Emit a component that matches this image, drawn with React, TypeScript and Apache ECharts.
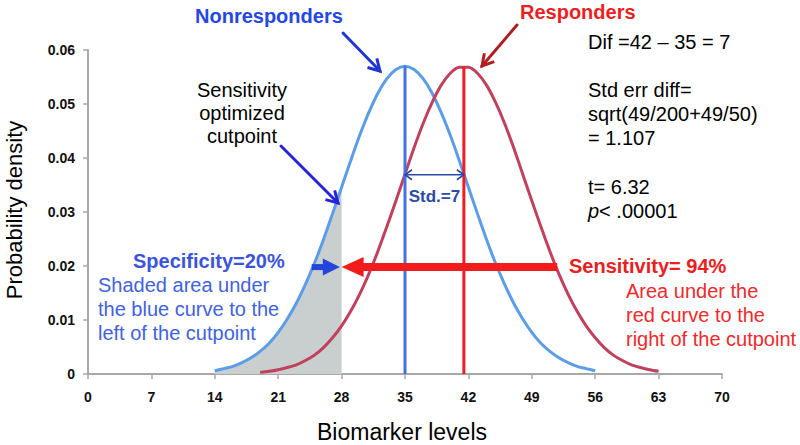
import React, { useEffect, useRef } from "react";
import * as echarts from "echarts";

// ---- data ----
const xTicks = [0, 7, 14, 21, 28, 35, 42, 49, 56, 63, 70];
const yTicks = [0, 0.01, 0.02, 0.03, 0.04, 0.05, 0.06];

const blueX = [14, 15, 16, 17, 18, 19, 20, 21, 22, 23, 24, 25, 26, 27, 28, 29, 30, 31, 32, 33, 34, 35,
  36, 37, 38, 39, 40, 41, 42, 43, 44, 45, 46, 47, 48, 49, 50, 51, 52, 53, 54, 55, 56];
const blueY = [0.0006, 0.0010, 0.0014, 0.0021, 0.0030, 0.0042, 0.0057, 0.0077, 0.0102, 0.0131, 0.0166,
  0.0205, 0.0249, 0.0297, 0.0346, 0.0395, 0.0442, 0.0484, 0.0520, 0.0547, 0.0564, 0.0570,
  0.0564, 0.0547, 0.0520, 0.0484, 0.0442, 0.0395, 0.0346, 0.0297, 0.0249, 0.0205, 0.0166,
  0.0131, 0.0102, 0.0077, 0.0057, 0.0042, 0.0030, 0.0021, 0.0014, 0.0010, 0.0006];

const redX = [19, 20, 21, 22, 23, 24, 25, 26, 27, 28, 29, 30, 31, 32, 33, 34, 35, 36, 37, 38, 39, 40, 41,
  42, 43, 44, 45, 46, 47, 48, 49, 50, 51, 52, 53, 54, 55, 56, 57, 58, 59, 60, 61, 62, 63];
const redY = [0.0003, 0.0005, 0.0008, 0.0012, 0.0017, 0.0025, 0.0035, 0.0049, 0.0067, 0.0089, 0.0116,
  0.0148, 0.0185, 0.0227, 0.0273, 0.0321, 0.0370, 0.0419, 0.0464, 0.0503, 0.0535, 0.0557, 0.0568,
  0.0568, 0.0557, 0.0535, 0.0503, 0.0464, 0.0419, 0.0370, 0.0321, 0.0273, 0.0227, 0.0185, 0.0148,
  0.0116, 0.0089, 0.0067, 0.0049, 0.0035, 0.0025, 0.0017, 0.0012, 0.0008, 0.0005];

const cutpoint = 28;
const blueMean = 35;
const bluePeak = 0.0570;
const redMean = 41.5;
const redPeak = 0.0568;
const stdArrowY = 0.0369;
const sensArrowY = 0.0198;
const sensArrowStart = 51.8;
const specArrowStart = 24.7;
const specArrowEnd = 27.8;

const FONT = '"Liberation Sans", Arial, Helvetica, sans-serif';

function vArrow(x1: number, y1: number, x2: number, y2: number, color: string, w: number, L: number, ang = Math.PI / 6) {
  const a = Math.atan2(y2 - y1, x2 - x1);
  const p1 = [x2 - L * Math.cos(a - ang), y2 - L * Math.sin(a - ang)];
  const p2 = [x2 - L * Math.cos(a + ang), y2 - L * Math.sin(a + ang)];
  return [
    { type: "line", z: 100, shape: { x1, y1, x2, y2 }, style: { stroke: color, lineWidth: w, lineCap: "round" } },
    { type: "polyline", z: 100, shape: { points: [p1, [x2, y2], p2] }, style: { stroke: color, lineWidth: w, fill: null, lineJoin: "miter" } },
  ];
}

function txt(text: string, x: number, y: number, size: number, color: string, weight = "normal", align = "left", extra: any = {}) {
  return {
    type: "text",
    z: 110,
    x,
    y,
    ...extra,
    style: { text, x: 0, y: 0, fill: color, font: `${weight} ${size}px ${FONT}`, align, verticalAlign: "middle", ...(extra.style || {}) },
  };
}

export default function App() {
  const ref = useRef<HTMLDivElement>(null);
  useEffect(() => {
    if (!ref.current) return;
    const chart = echarts.init(ref.current, null, { renderer: "svg" });
    const blueData = blueX.map((x, i) => [x, blueY[i]]);
    const redData = redX.map((x, i) => [x, redY[i]]);
    const shadeData = blueData.filter((d) => d[0] <= cutpoint);
    const axisColor = "#a8a8a8";
    chart.setOption({
      animation: false,
      grid: { left: 88, right: 78, top: 50, bottom: 71 },
      xAxis: {
        type: "value",
        min: xTicks[0],
        max: xTicks[xTicks.length - 1],
        interval: xTicks[1] - xTicks[0],
        axisLine: { show: true, onZero: false, lineStyle: { color: axisColor, width: 2 } },
        axisTick: { show: true, length: 5, lineStyle: { color: axisColor, width: 1.5 } },
        axisLabel: { color: "#111", fontWeight: "bold", fontSize: 14, fontFamily: FONT, margin: 16 },
        splitLine: { show: false },
      },
      yAxis: {
        type: "value",
        min: yTicks[0],
        max: yTicks[yTicks.length - 1],
        interval: 0.01,
        axisLine: { show: true, lineStyle: { color: axisColor, width: 2 } },
        axisTick: { show: true, length: 5, lineStyle: { color: axisColor, width: 1.5 } },
        axisLabel: {
          color: "#111", fontWeight: "bold", fontSize: 14, fontFamily: FONT, margin: 13,
          formatter: (v: number) => (v === 0 ? "0" : v.toFixed(2)),
        },
        splitLine: { show: false },
      },
      series: [
        {
          type: "line", data: shadeData, smooth: 0.3, symbol: "none", z: 1,
          lineStyle: { width: 0 }, areaStyle: { color: "#c9cece", opacity: 1 },
        },
        {
          type: "line", data: blueData, smooth: 0.3, symbol: "none", z: 3,
          lineStyle: { width: 3, color: "#5b9de8" },
        },
        {
          type: "line", data: redData, smooth: 0.3, symbol: "none", z: 3,
          lineStyle: { width: 3, color: "#c0415c" },
        },
        {
          type: "line", data: [[blueMean, 0], [blueMean, bluePeak]], symbol: "none", z: 4,
          lineStyle: { width: 3, color: "#4472e6" },
        },
        {
          type: "line", data: [[redMean, 0], [redMean, redPeak]], symbol: "none", z: 4,
          lineStyle: { width: 3, color: "#ee1c24" },
        },
      ],
    });

    const p = (x: number, y: number) => chart.convertToPixel({ gridIndex: 0 }, [x, y]) as number[];
    const g: any[] = [];

    // Std double arrow
    const s1 = p(blueMean, stdArrowY);
    const s2 = p(redMean, stdArrowY);
    const stdCol = "#2b4aa8";
    g.push({ type: "line", z: 100, shape: { x1: s1[0], y1: s1[1], x2: s2[0], y2: s2[1] }, style: { stroke: stdCol, lineWidth: 1.6 } });
    g.push({ type: "polyline", z: 100, shape: { points: [[s1[0] + 7, s1[1] - 5], [s1[0], s1[1]], [s1[0] + 7, s1[1] + 5]] }, style: { stroke: stdCol, lineWidth: 1.6, fill: null } });
    g.push({ type: "polyline", z: 100, shape: { points: [[s2[0] - 7, s2[1] - 5], [s2[0], s2[1]], [s2[0] - 7, s2[1] + 5]] }, style: { stroke: stdCol, lineWidth: 1.6, fill: null } });
    g.push(txt("Std.=7", (s1[0] + s2[0]) / 2, s1[1] + 22, 17, stdCol, "bold", "center"));

    // Big red sensitivity arrow
    const r1 = p(sensArrowStart, sensArrowY);
    const r2 = p(cutpoint, sensArrowY);
    const red = "#f21c1c";
    g.push({ type: "rect", z: 101, shape: { x: r2[0] + 20, y: r2[1] - 4, width: r1[0] - r2[0] - 20, height: 8 }, style: { fill: red } });
    g.push({ type: "polygon", z: 101, shape: { points: [[r2[0], r2[1]], [r2[0] + 22, r2[1] - 10], [r2[0] + 22, r2[1] + 10]] }, style: { fill: red } });

    // Blue specificity arrow
    const b1 = p(specArrowStart, sensArrowY);
    const b2 = p(specArrowEnd, sensArrowY);
    const blueA = "#2446dc";
    g.push({ type: "rect", z: 101, shape: { x: b1[0], y: b1[1] - 3, width: b2[0] - b1[0] - 14, height: 6 }, style: { fill: blueA } });
    g.push({ type: "polygon", z: 101, shape: { points: [[b2[0], b2[1]], [b2[0] - 17, b2[1] - 8.5], [b2[0] - 17, b2[1] + 8.5]] }, style: { fill: blueA } });

    // pointer arrows from labels
    g.push(...vArrow(343, 33, 380, 71, "#2234d2", 3, 13));
    g.push(...vArrow(517, 25, 482, 66, "#b01e22", 3, 13));
    g.push(...vArrow(281, 146, 338, 203, "#2424d8", 3, 13));

    // Texts
    g.push(txt("Nonresponders", 195, 16, 20, "#2448e4", "bold"));
    g.push(txt("Responders", 520, 12, 20, "#ea1f1f", "bold"));
    g.push(txt("Sensitivity", 242, 90, 20, "#000", "normal", "center"));
    g.push(txt("optimized", 242, 113, 20, "#000", "normal", "center"));
    g.push(txt("cutpoint", 242, 136, 20, "#000", "normal", "center"));

    g.push(txt("Dif =42 \u2013 35 = 7", 588, 42, 20, "#000"));
    g.push(txt("Std err diff=", 588, 90, 20, "#000"));
    g.push(txt("sqrt(49/200+49/50)", 588, 114, 20, "#000"));
    g.push(txt("= 1.107", 588, 138, 20, "#000"));
    g.push(txt("t= 6.32", 588, 187, 20, "#000"));
    g.push({
      type: "text", z: 110, x: 588, y: 211,
      style: {
        text: "{i|p}< .00001", x: 0, y: 0, fill: "#000", font: `normal 20px ${FONT}`, verticalAlign: "middle",
        rich: { i: { fontStyle: "italic", fontSize: 20, fontFamily: FONT, fill: "#000" } },
      },
    });

    g.push(txt("Specificity=20%", 133, 261, 20, "#3a55da", "bold"));
    g.push(txt("Shaded area under", 98, 285, 20, "#4162e0"));
    g.push(txt("the blue curve to the", 98, 309, 20, "#4162e0"));
    g.push(txt("left of the cutpoint", 98, 333, 20, "#4162e0"));

    g.push(txt("Sensitivity= 94%", 569, 266, 20, "#e82020", "bold"));
    g.push(txt("Area under the", 626, 291, 20, "#ee2a2a"));
    g.push(txt("red curve to the", 626, 315, 20, "#ee2a2a"));
    g.push(txt("right of the cutpoint", 626, 339, 20, "#ee2a2a"));

    // axis titles
    g.push(txt("Biomarker levels", 402, 432, 23, "#000", "normal", "center"));
    g.push({
      type: "text", z: 110, x: 14, y: 210, rotation: Math.PI / 2,
      style: { text: "Probability density", x: 0, y: 0, fill: "#000", font: `normal 22px ${FONT}`, align: "center", verticalAlign: "middle" },
    });

    chart.setOption({ graphic: g });
    return () => chart.dispose();
  }, []);
  return <div ref={ref} style={{ position: "fixed", left: 0, top: 0, width: 800, height: 445, background: "#fff" }} />;
}
